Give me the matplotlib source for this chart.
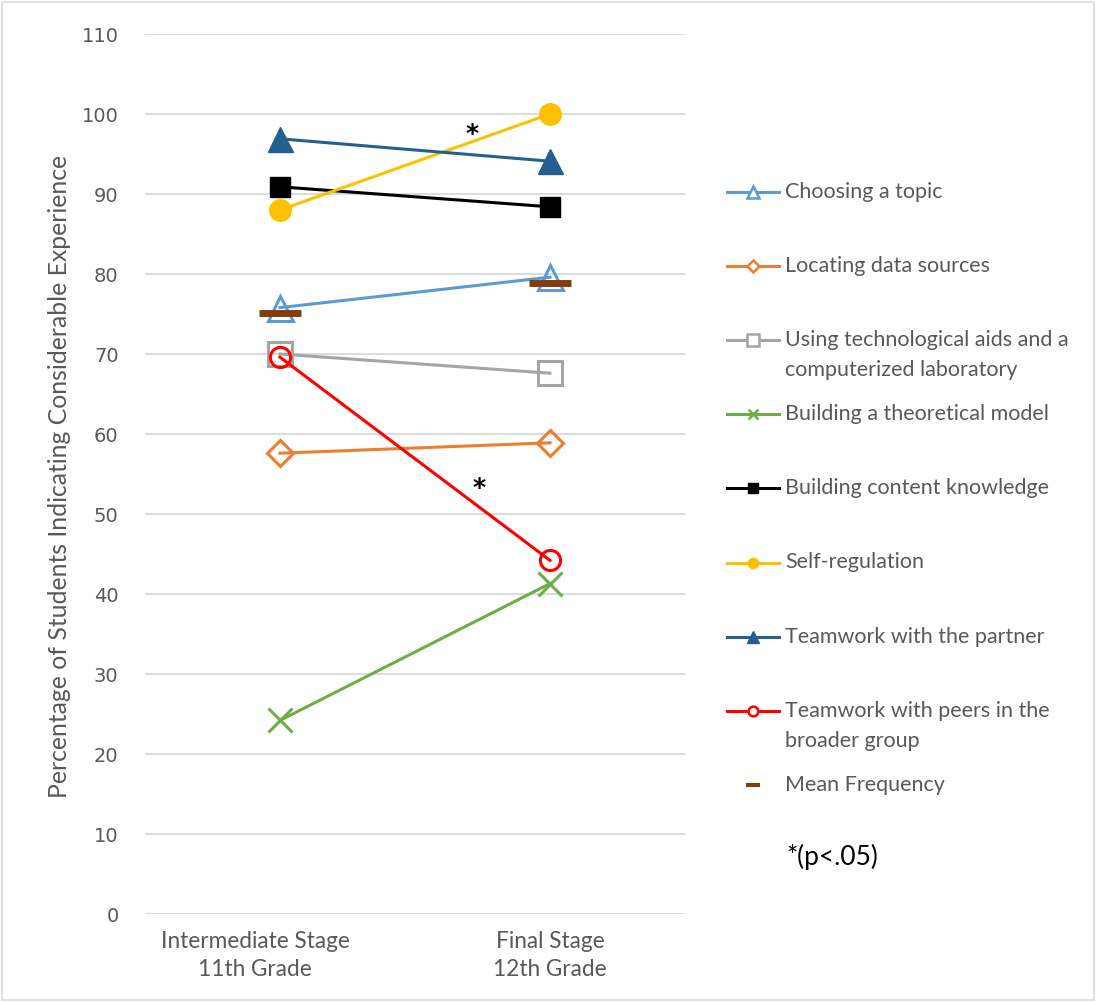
"""
Percentage of students indicating considerable experience,
intermediate (11th grade) vs final (12th grade) stage.
Writes out.png
"""

import matplotlib
matplotlib.use("Agg")  # no display
import matplotlib.pyplot as plt
from matplotlib.lines import Line2D
from matplotlib.patches import Rectangle
from matplotlib.transforms import ScaledTranslation

stages = ["Intermediate Stage\n11th Grade", "Final Stage\n12th Grade"]

series_names = [
    "Choosing a topic",
    "Locating data sources",
    "Using technological aids and a\ncomputerized laboratory",
    "Building a theoretical model",
    "Building content knowledge",
    "Self-regulation",
    "Teamwork with the partner",
    "Teamwork with peers in the\nbroader group",
]

choosing_topic = [75.8, 79.6]
locating_sources = [57.6, 58.9]
tech_aids = [70.0, 67.6]
theoretical_model = [24.2, 41.3]
content_knowledge = [90.9, 88.4]
self_regulation = [88.0, 100.0]
teamwork_partner = [96.9, 94.1]
teamwork_peers = [69.6, 44.2]

mean_label = "Mean Frequency"
mean_frequency = [75.1, 78.9]

# significance stars (between the two stages), baseline position
sig_x = [0.71, 0.737]
sig_y = [96.6, 52.4]
sig_note = "*(p<.05)"

y_ticks = list(range(0, 111, 10))

all_series = [
    choosing_topic, locating_sources, tech_aids, theoretical_model,
    content_knowledge, self_regulation, teamwork_partner, teamwork_peers,
]

GREY_TXT = "#595959"
TXT_FONT = ["Lato", "DejaVu Sans"]

# colour, marker, open?, marker size on plot, marker size in legend
styles = [
    ("#5B9BD5", "^", True, 18, 8.5),
    ("#ED7D31", "D", True, 13, 6),
    ("#A5A5A5", "s", True, 17.5, 8),
    ("#70AD47", "x", False, 17, 7.5),
    ("#000000", "s", False, 14, 7),
    ("#FFC000", "o", False, 15.5, 7.5),
    ("#255E91", "^", False, 18, 8.5),
    ("#FF0000", "o", True, 14.5, 7),
]
MEAN_COLOR = "#843C0C"

fig = plt.figure(figsize=(10.96, 10.02), dpi=100)
ax = fig.add_axes([145 / 1096, 1 - 914 / 1002, 540 / 1096, 880 / 1002])

x = list(range(len(stages)))
for vals, (col, mk, is_open, ms, _) in zip(all_series, styles):
    ax.plot(
        x, vals, color=col, lw=2.2, marker=mk, markersize=ms,
        markerfacecolor="none" if is_open else col,
        markeredgecolor=col,
        markeredgewidth=2.2 if (is_open or mk == "x") else 1,
        zorder=3,
    )

ax.plot(x, mean_frequency, ls="none", marker="_", markersize=30,
        markeredgewidth=5, color=MEAN_COLOR, zorder=4)

for sx, sy in zip(sig_x, sig_y):
    ax.text(sx, sy, "*", ha="center", va="baseline", fontsize=18,
            fontweight="bold", family="DejaVu Sans", color="black", zorder=5)

ax.set_xlim(-0.5, 1.5)
ax.set_ylim(0, 110)
ax.set_yticks(y_ticks)
ax.set_xticks(x)
ax.set_xticklabels(stages, family=TXT_FONT, fontsize=16.3, color=GREY_TXT,
                   linespacing=1.45)
ax.tick_params(axis="y", length=0, pad=19, labelsize=14, labelcolor=GREY_TXT)
ax.tick_params(axis="x", length=0, pad=12)
# Excel pushes the first category label a bit to the left
first = ax.get_xticklabels()[0]
first.set_transform(first.get_transform()
                    + ScaledTranslation(-0.25, 0, fig.dpi_scale_trans))

ax.grid(axis="y", color="#D9D9D9", lw=1.3)
ax.set_axisbelow(True)
for side in ["top", "right", "left", "bottom"]:
    ax.spines[side].set_visible(False)

fig.text(60 / 1096, 1 - 476 / 1002,
         "Percentage of Students Indicating Considerable Experience",
         rotation=90, ha="center", va="center", fontsize=17.8,
         family=TXT_FONT, color=GREY_TXT)

# hand-built legend on the right, in pixel coordinates
lg = fig.add_axes([0, 0, 1, 1])
lg.set_xlim(0, 1096)
lg.set_ylim(1002, 0)
lg.axis("off")

row0, row_gap = 192, 74.1
for i, (name, (col, mk, is_open, _, lms)) in enumerate(zip(series_names, styles)):
    yy = row0 + i * row_gap
    lg.add_line(Line2D([727, 779], [yy, yy], color=col, lw=2.2))
    lg.add_line(Line2D([753], [yy], marker=mk, markersize=lms, color=col,
                       markerfacecolor="white" if is_open else col,
                       markeredgewidth=1.8 if (is_open or mk == "x") else 1))
    lg.text(785, yy - 10, name, ha="left", va="top", fontsize=15.5,
            family=TXT_FONT, color=GREY_TXT, linespacing=1.62)

yy = row0 + len(series_names) * row_gap
lg.add_line(Line2D([753], [yy], marker="_", markersize=10,
                   markeredgewidth=3, color=MEAN_COLOR))
lg.text(785, yy - 10, mean_label, ha="left", va="top", fontsize=15.5,
        family=TXT_FONT, color=GREY_TXT)

lg.text(786, 857, sig_note, ha="left", va="center", fontsize=19,
        family=TXT_FONT, color="black")

fig.patches.append(Rectangle((0.002, 0.002), 0.996, 0.996,
                             transform=fig.transFigure, fill=False,
                             ec="#D9D9D9", lw=1.2))

fig.savefig("out.png", dpi=100, facecolor="white")
